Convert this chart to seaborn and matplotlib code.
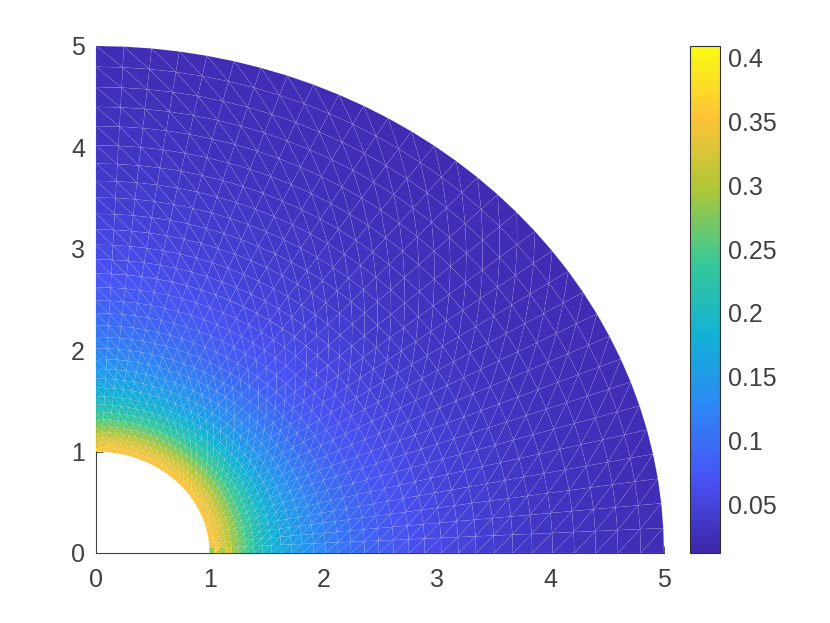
import numpy as np
import matplotlib
matplotlib.use('Agg')
import matplotlib.pyplot as plt
import matplotlib.tri as mtri
import seaborn as sns

# Ring radii of the mesh
ring_radii = [1.0, 1.045, 1.09, 1.14, 1.195, 1.255, 1.32, 1.39, 1.465, 1.545, 1.63, 1.72,
              1.815, 1.915, 2.02, 2.13, 2.245, 2.365, 2.49, 2.62, 2.755, 2.895, 3.04, 3.19,
              3.345, 3.505, 3.67, 3.84, 4.02, 4.21, 4.40, 4.595, 4.795, 5.0]

# Values per ring, read along the axes and along the diagonal
axis_values = [0.352, 0.345, 0.335, 0.32, 0.297, 0.272, 0.248, 0.225, 0.205, 0.187, 0.172, 0.158,
               0.145, 0.132, 0.12, 0.109, 0.099, 0.09, 0.082, 0.075, 0.068, 0.062, 0.056, 0.051,
               0.046, 0.042, 0.038, 0.034, 0.031, 0.029, 0.027, 0.025, 0.023, 0.022]
diag_values = [0.352, 0.345, 0.335, 0.318, 0.292, 0.268, 0.244, 0.22, 0.197, 0.177, 0.158, 0.141,
               0.126, 0.113, 0.1, 0.089, 0.08, 0.072, 0.065, 0.059, 0.053, 0.048, 0.043, 0.039,
               0.036, 0.033, 0.03, 0.028, 0.026, 0.024, 0.023, 0.022, 0.021, 0.02]

# How far each radial mesh line sits towards the diagonal profile
sector_weights = [0.0, 0.05, 0.1, 0.18, 0.26, 0.35, 0.45, 0.55, 0.65, 0.75, 0.83, 0.9, 0.95, 0.98, 1.0, 1.0, 1.0,
                  1.0, 1.0, 0.98, 0.95, 0.9, 0.83, 0.75, 0.65, 0.55, 0.45, 0.35, 0.26, 0.18, 0.1, 0.05, 0.0]

# Odd coloured triangles along the bottom edge next to the hole, and at its top corner
bottom_edge_values = [0.12, 0.42, 0.2, 0.38]
top_corner_value = 0.42

x_ticks = [0, 1, 2, 3, 4, 5]
y_ticks = [0, 1, 2, 3, 4, 5]
cbar_ticks = [0.05, 0.1, 0.15, 0.2, 0.25, 0.3, 0.35, 0.4]
cbar_labels = ['0.05', '0.1', '0.15', '0.2', '0.25', '0.3', '0.35', '0.4']
value_min, value_max = 0.0116, 0.4092

parula_colors = ['#3e26a8', '#4852f4', '#2d87f7', '#12b1d6', '#37c897', '#abc739', '#fec338', '#f9fb15']

sns.set_theme(style='ticks')
plt.rcParams['font.family'] = ['Liberation Sans', 'DejaVu Sans']
cmap = sns.blend_palette(parula_colors, as_cmap=True)

# Build the structured triangle mesh
radii = np.array(ring_radii)
weights = np.array(sector_weights)
angles = np.linspace(0, np.pi / 2, len(weights))
rr, aa = np.meshgrid(radii, angles, indexing='ij')
x = (rr * np.cos(aa)).ravel()
y = (rr * np.sin(aa)).ravel()
vals = np.outer(axis_values, 1 - weights) + np.outer(diag_values, weights)
vals[:len(bottom_edge_values), 0] = bottom_edge_values
vals[0, -1] = top_corner_value

n_r, n_a = len(radii), len(weights)
inner_tris, middle_tris, outer_tris = [], [], []
for i in range(n_r - 1):
    for j in range(n_a - 1):
        a = i * n_a + j
        b = a + 1
        c = a + n_a
        d = c + 1
        if i < 10:
            target = inner_tris
        elif i < 20:
            target = middle_tris
        else:
            target = outer_tris
        target.append([a, c, d])
        target.append([a, d, b])
mesh = mtri.Triangulation(x, y, np.array(inner_tris + middle_tris + outer_tris))

fig = plt.figure(figsize=(8.3, 6.23), dpi=100)
ax = fig.add_axes([96 / 830, 70 / 623, 568 / 830, 507 / 623])
cax = fig.add_axes([689.5 / 830, 70 / 623, 30 / 830, 507 / 623])

pc = ax.tripcolor(mesh, vals.ravel(), shading='flat', cmap=cmap, vmin=value_min, vmax=value_max,
                  edgecolors='none', antialiased=True, zorder=3)
for tris, line_alpha in [(inner_tris, 0.04), (middle_tris, 0.09), (outer_tris, 0.14)]:
    ax.triplot(mtri.Triangulation(x, y, np.array(tris)), color='white', lw=0.35, alpha=line_alpha, zorder=4)

ax.set_xlim(0, 5)
ax.set_ylim(0, 5)
ax.set_xticks(x_ticks)
ax.set_yticks(y_ticks)
ax.tick_params(direction='in', length=5, width=0.6, color='#404040', labelcolor='#404040',
               labelsize=18)
ax.tick_params(axis='x', pad=11)
ax.tick_params(axis='y', pad=8)
sns.despine(ax=ax)
for side in ['left', 'bottom']:
    ax.spines[side].set_linewidth(0.8)
    ax.spines[side].set_color('#404040')
    ax.spines[side].set_zorder(2)

cb = fig.colorbar(pc, cax=cax)
cb.set_ticks(cbar_ticks)
cb.set_ticklabels(cbar_labels)
cb.ax.tick_params(direction='in', length=5, width=0.6, color='#404040', labelcolor='#404040',
                  labelsize=18, pad=6)
cb.outline.set_linewidth(0.8)
cb.outline.set_edgecolor('#303030')

fig.savefig('out.png', dpi=100)
